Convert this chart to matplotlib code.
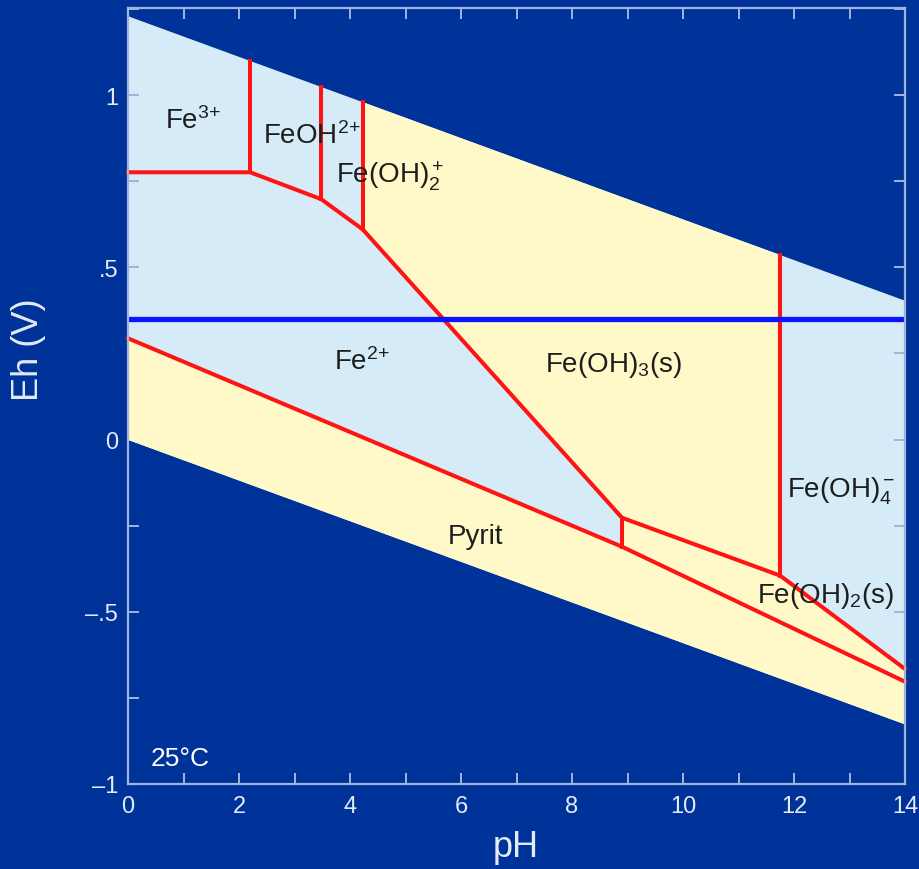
import numpy as np
import matplotlib
matplotlib.use("Agg")
import matplotlib.pyplot as plt
from matplotlib.ticker import MultipleLocator, FuncFormatter

plt.rcParams['font.family'] = ['Liberation Sans', 'DejaVu Sans']
plt.rcParams['mathtext.fontset'] = 'custom'
plt.rcParams['mathtext.rm'] = 'Liberation Sans'
plt.rcParams['mathtext.it'] = 'Liberation Sans'
plt.rcParams['mathtext.default'] = 'rm'

# Water stability limits (pH, Eh)
water_ph = [0.0, 14.0]
water_upper_eh = [1.23, 0.404]
water_lower_eh = [0.0, -0.826]

# Fe3+ / hydrolysed Fe(III) / Fe(OH)3 boundary against Fe2+ / Fe(OH)2 / Fe(OH)4-
redox_ph = [0.0, 2.2, 3.48, 4.23, 8.9, 11.75, 14.0]
redox_eh = [0.776, 0.776, 0.698, 0.61, -0.227, -0.395, -0.666]

# Pyrite upper boundary
pyrite_ph = [0.0, 8.9, 14.0]
pyrite_eh = [0.294, -0.311, -0.703]

# Vertical (pH-only) boundaries
vert_ph = [2.2, 3.48, 4.23, 11.75]
vert_low_eh = [0.776, 0.698, 0.61, -0.395]

# Fe2+ / Fe(OH)2 short boundary
fe2_feoh2_ph = 8.9
fe2_feoh2_eh = [-0.227, -0.311]

# Horizontal redox level
blue_eh = 0.35

# Field labels: (text, pH, Eh)
labels = [
    (r"Fe$^{3{+}}$", 0.67, 0.904),
    (r"FeOH$^{2{+}}$", 2.43, 0.860),
    (r"Fe(OH)$_2^{\,{+}}$", 3.75, 0.747),
    (r"Fe$^{2{+}}$", 3.71, 0.206),
    (r"Fe(OH)$_3$(s)", 7.51, 0.200),
    (r"Fe(OH)$_4^{\,{-}}$", 11.87, -0.166),
    ("Pyrit", 5.77, -0.300),
    (r"Fe(OH)$_2$(s)", 11.33, -0.471),
]

bg = '#003399'
aq = '#d5ebf7'
solid = '#fff8c8'
red = '#ff1414'
spine_c = '#a0b4dc'
tick_txt = '#e4eaf6'

fig = plt.figure(figsize=(9.19, 8.7), dpi=100, facecolor=bg)
ax = fig.add_axes([128/919, 1-785/870, (905-128)/919, (785-9)/870])
ax.set_facecolor(bg)
ax.set_xlim(0, 14)
ax.set_ylim(-1, (440-9)/344)

ph = np.linspace(0, 14, 200)
up = np.interp(ph, water_ph, water_upper_eh)
lo = np.interp(ph, water_ph, water_lower_eh)
pyr = np.interp(ph, pyrite_ph, pyrite_eh)

# aqueous field
ax.fill_between(ph, lo, up, color=aq, lw=0, zorder=1)
# pyrite field
ax.fill_between(ph, lo, pyr, color=solid, lw=0, zorder=2)

# Fe(OH)3 field
x0, x1 = vert_ph[2], vert_ph[3]
seg = np.linspace(x0, x1, 50)
top = np.interp(seg, water_ph, water_upper_eh)
bot = np.interp(seg, redox_ph, redox_eh)
ax.fill_between(seg, bot, top, color=solid, lw=0, zorder=2)

# Fe(OH)2 field
seg2 = np.linspace(fe2_feoh2_ph, 14, 50)
ax.fill_between(seg2, np.interp(seg2, pyrite_ph, pyrite_eh),
                np.interp(seg2, redox_ph, redox_eh), color=solid, lw=0, zorder=2)

lw = 2.9
ax.plot(redox_ph, redox_eh, color=red, lw=lw, zorder=4, solid_joinstyle='miter', clip_on=False)
ax.plot(pyrite_ph, pyrite_eh, color=red, lw=lw, zorder=4, clip_on=False)
for xp, ylo in zip(vert_ph, vert_low_eh):
    ytop = np.interp(xp, water_ph, water_upper_eh)
    ax.plot([xp, xp], [ylo, ytop], color=red, lw=lw, zorder=4)
ax.plot([fe2_feoh2_ph, fe2_feoh2_ph], fe2_feoh2_eh, color=red, lw=lw, zorder=4)

ax.axhline(blue_eh, color='#0a14ff', lw=3.8, zorder=5)

for txt, x, y in labels:
    ax.text(x, y, txt, fontsize=20, color='#1e1e1e', ha='left', va='baseline', zorder=6)

ax.text(0.4, -0.945, "25°C", fontsize=19, color='white', ha='left', va='baseline')

# axes styling
for s in ax.spines.values():
    s.set_color(spine_c)
    s.set_linewidth(1.6)
    s.set_zorder(7)

ax.xaxis.set_major_locator(MultipleLocator(2))
ax.xaxis.set_minor_locator(MultipleLocator(1))
ax.yaxis.set_major_locator(MultipleLocator(0.5))
ax.yaxis.set_minor_locator(MultipleLocator(0.25))

def yfmt(v, pos):
    if abs(v) < 1e-9:
        return "0"
    s = f"{abs(v):g}"
    if s.startswith("0."):
        s = s[1:]
    return ("\u2013" if v < 0 else "") + s

ax.yaxis.set_major_formatter(FuncFormatter(yfmt))
ax.xaxis.set_major_formatter(FuncFormatter(lambda v, p: f"{v:g}"))

ax.tick_params(which='both', direction='in', length=8, width=1.4, color=spine_c,
               top=True, right=True, labelsize=17, labelcolor=tick_txt)
ax.tick_params(axis='x', pad=8)
ax.tick_params(axis='y', pad=7)

fig.text(516/919, 1-848/870, "pH", fontsize=26, color=tick_txt, ha='center', va='center')
fig.text(29/919, 1-350/870, "Eh (V)", fontsize=26, color=tick_txt, ha='center', va='center',
         rotation=90)

fig.savefig("out.png", dpi=100, facecolor=bg)
